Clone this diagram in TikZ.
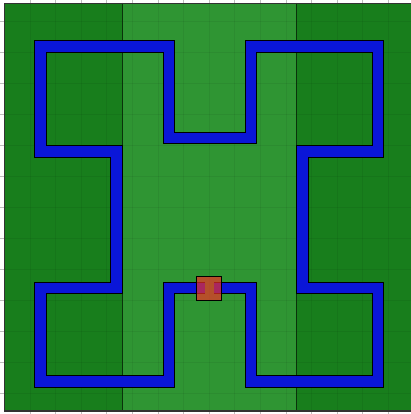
\documentclass[tikz,border=0pt]{standalone}
\definecolor{darkgr}{RGB}{24,126,28}
\definecolor{lightgr}{RGB}{47,149,51}
\definecolor{mazeblue}{RGB}{10,22,216}
\definecolor{boxred}{RGB}{245,48,38}
\definecolor{tickgray}{RGB}{190,190,190}
\tikzset{
  zone/.style={draw=black!60!darkgr, line width=0.8pt},
  gridline/.style={draw=black, opacity=0.06, line width=0.9pt},
  tick/.style={draw=tickgray, line width=0.8pt},
  mazeout/.style={draw=black, line width=12.4pt, line join=miter},
  mazein/.style={draw=mazeblue, line width=10.4pt, line join=miter},
  startbox/.style={fill=boxred, fill opacity=0.68, draw=black, line width=1pt}
}
\begin{document}
\begin{tikzpicture}[x=1pt,y=-1pt]
\useasboundingbox (0,0) rectangle (411,414);
\fill[white] (0,0) rectangle (411,414);
% ticks
\foreach \k in {0,...,12} \draw[tick] (0,21+31*\k) -- (4,21+31*\k);
\foreach \k in {1,...,15} {\draw[tick] (4.4+25.6*\k,0) -- (4.4+25.6*\k,3);
  \draw[tick] (4.4+25.6*\k,411) -- (4.4+25.6*\k,414);}
% zones
\fill[darkgr] (4,3) rectangle (122,411);
\fill[lightgr] (122,3) rectangle (296,411);
\fill[darkgr] (296,3) rectangle (413,411);
% grid
\foreach \k in {1,...,15} \draw[gridline] (4.4+25.6*\k,3) -- (4.4+25.6*\k,411);
\foreach \k in {0,...,12} \draw[gridline] (4,21+31*\k) -- (411,21+31*\k);
\draw[zone] (122,3) -- (122,411);
\draw[zone] (296,3) -- (296,411);
% frame
\draw[black!80, line width=1.4pt] (411.7,3.7) -- (4.7,3.7) -- (4.7,410.9) -- (411.7,410.9);
% maze path
\def\mazepath{(214,288) -- (251,288) -- (251,381.5) -- (378,381.5) -- (378,288) -- (302.5,288) -- (302.5,151.5) -- (378,151.5) -- (378,46.5) -- (251,46.5) -- (251,138) -- (169,138) -- (169,46.5) -- (40.5,46.5) -- (40.5,151.5) -- (116.5,151.5) -- (116.5,288) -- (40.5,288) -- (40.5,381.5) -- (169,381.5) -- (169,288) -- (205,288)}
\draw[mazeout] \mazepath;
\draw[mazein] \mazepath;
% start box
\draw[startbox] (196.5,276.5) rectangle (221.5,300.5);
\end{tikzpicture}
\end{document}
